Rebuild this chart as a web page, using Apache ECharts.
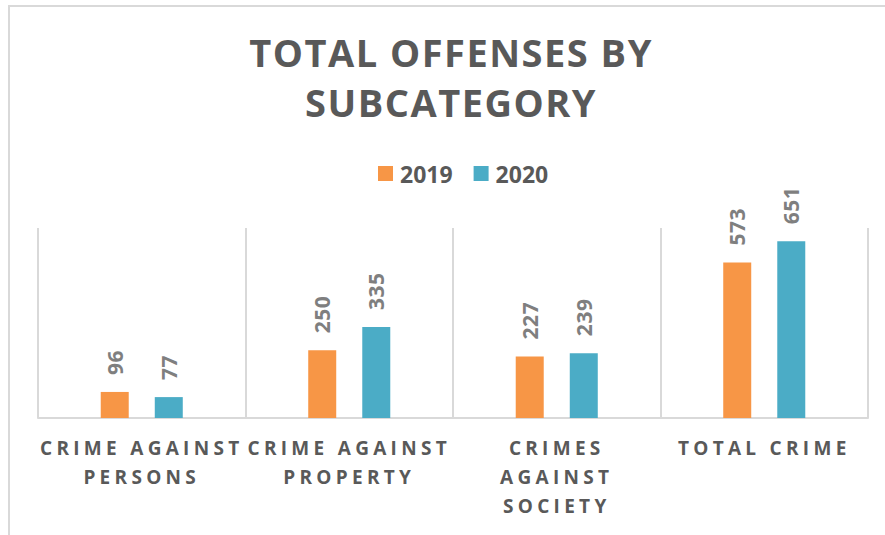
<!DOCTYPE html>
<html>
<head>
<meta charset="utf-8">
<script src="https://cdn.jsdelivr.net/npm/echarts@6/dist/echarts.min.js"></script>
<style>
  html, body { margin: 0; padding: 0; background: #ffffff; width: 885px; height: 535px; overflow: hidden; }
  #frame { position: absolute; left: 8px; top: 5px; width: 900px; height: 560px;
           border-left: 2px solid #d9d9d9; border-top: 2px solid #d9d9d9; }
  #chart { position: absolute; left: 10px; top: 7px; width: 882px; height: 528px; }
</style>
</head>
<body>
<div id="frame"></div>
<div id="chart"></div>
<script>
// Offense counts per subcategory
const categories = ['CRIME AGAINST\nPERSONS', 'CRIME AGAINST\nPROPERTY', 'CRIMES\nAGAINST\nSOCIETY', 'TOTAL CRIME'];
const seriesNames = ['2019', '2020'];
const values2019 = [96, 250, 227, 573];
const values2020 = [77, 335, 239, 651];
const yMin = 0;
const yMax = 700;

const FONT = "'Open Sans', 'Noto Sans', sans-serif";
const ORANGE = '#F79646';
const TEAL = '#4BACC6';
const TEXT_DARK = '#595959';
const TEXT_LABEL = '#7F7F7F';
const GRID_LINE = '#D9D9D9';

const chart = echarts.init(document.getElementById('chart'), null, { renderer: 'svg' });

function barSeries(name, data, color) {
  return {
    name: name,
    type: 'bar',
    data: data,
    barWidth: 28,
    barGap: '93%',
    itemStyle: { color: color },
    label: {
      show: true,
      position: 'top',
      distance: 17,
      rotate: 90,
      align: 'left',
      verticalAlign: 'middle',
      color: TEXT_LABEL,
      fontFamily: FONT,
      fontWeight: 'bold',
      fontSize: 21
    }
  };
}

chart.setOption({
  animation: false,
  backgroundColor: '#ffffff',
  title: {
    text: 'TOTAL OFFENSES BY\nSUBCATEGORY',
    left: 'center',
    top: 15,
    textStyle: {
      color: TEXT_DARK,
      fontFamily: FONT,
      fontWeight: 'bold',
      fontSize: 38,
      lineHeight: 50
    }
  },
  legend: {
    data: seriesNames,
    left: 363,
    top: 150,
    icon: 'rect',
    itemWidth: 15,
    itemHeight: 15,
    itemGap: 21,
    textStyle: {
      color: TEXT_DARK,
      fontFamily: FONT,
      fontWeight: 'bold',
      fontSize: 23,
      padding: [0, 0, 0, 2]
    }
  },
  grid: { left: 28, right: 24, top: 221, bottom: 117, containLabel: false },
  xAxis: {
    type: 'category',
    data: categories,
    boundaryGap: true,
    axisLine: { show: true, lineStyle: { color: GRID_LINE, width: 2 } },
    axisTick: { show: false },
    splitLine: { show: true, lineStyle: { color: GRID_LINE, width: 2 } },
    axisLabel: {
      interval: 0,
      margin: 15,
      color: TEXT_DARK,
      fontFamily: FONT,
      fontWeight: 'bold',
      fontSize: 19,
      lineHeight: 29
    }
  },
  yAxis: {
    type: 'value',
    min: yMin,
    max: yMax,
    show: false,
    splitLine: { show: false }
  },
  series: [
    barSeries(seriesNames[0], values2019, ORANGE),
    barSeries(seriesNames[1], values2020, TEAL)
  ]
});

// Tracking (letter spacing) per text size: title, axis labels, data labels
const spacingBySize = { '38': '1.5px', '19': '4.3px', '21': '0.5px' };
function applySpacing() {
  chart.getDom().querySelectorAll('text').forEach(function (t) {
    const st = t.getAttribute('style') || '';
    const m = /(\d+)px/.exec(st);
    if (m && spacingBySize[m[1]]) t.style.letterSpacing = spacingBySize[m[1]];
  });
}
applySpacing();
chart.on('finished', applySpacing);
</script>
</body>
</html>
